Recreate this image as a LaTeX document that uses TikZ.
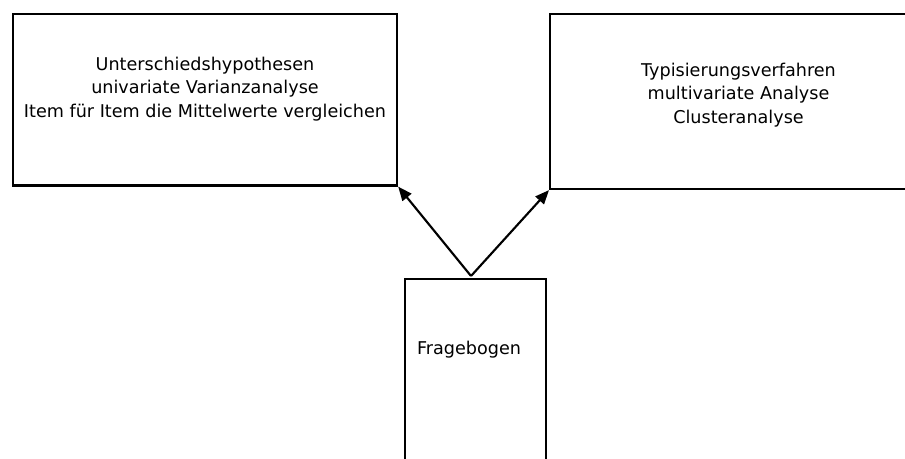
\documentclass[tikz,border=0pt]{standalone}
\usepackage{fontspec}
\setmainfont{DejaVu Sans}
\usetikzlibrary{arrows.meta}
\begin{document}
\begin{tikzpicture}[x=0.75pt,y=-0.75pt,
  box/.style={draw=black,line width=1.6pt,rectangle,inner sep=0pt,anchor=north west},
  lbl/.style={align=center,inner sep=0pt,font=\fontsize{13.2}{17.4}\selectfont},
  conn/.style={draw=black,line width=1.6pt,-{Triangle[length=10.5pt,width=8.5pt]}}]
\clip (0,0) rectangle (905,458);
\useasboundingbox (0,0) rectangle (905,458);
\node[box,minimum width=288.4pt,minimum height=128.6pt] (left) at (11.5,13) {};
\node[box,minimum width=337.5pt,minimum height=131.6pt] (right) at (549,12.5) {};
\node[box,minimum width=105.75pt,minimum height=187.5pt] (bottom) at (404,277.5) {};
\node[lbl] (lefttext) at (205,89) {Unterschiedshypothesen\\univariate Varianzanalyse\\Item für Item die Mittelwerte vergleichen};
\node[lbl] (righttext) at (738.5,95) {Typisierungsverfahren\\multivariate Analyse\\Clusteranalyse};
\node[lbl] (bottomtext) at (469,350) {Fragebogen};
\coordinate (start) at (471,276);
\draw[conn] (start) -- (left.south east);
\draw[conn] (start) -- (right.south west);
\end{tikzpicture}
\end{document}
